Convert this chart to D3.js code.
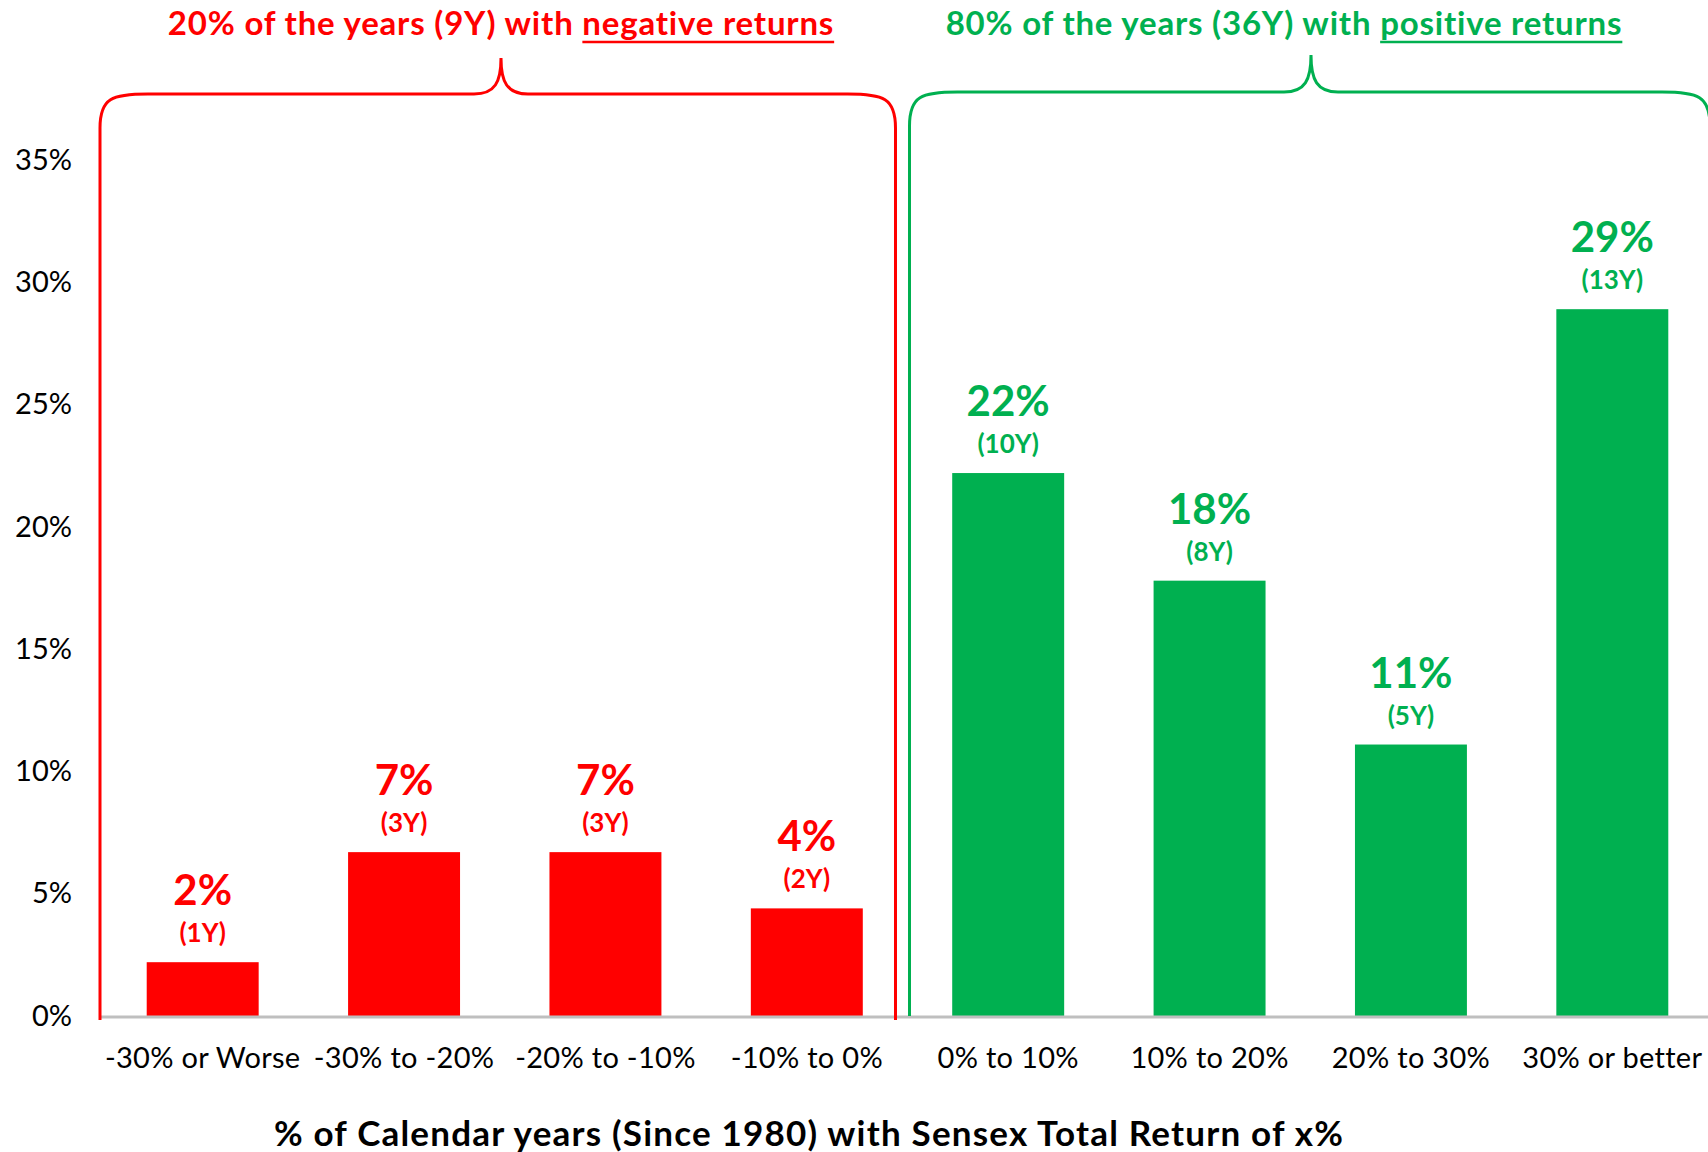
<!DOCTYPE html>
<html>
<head>
<meta charset="utf-8">
<script src="https://cdnjs.cloudflare.com/ajax/libs/d3/7.8.5/d3.min.js"></script>
<style>
  html, body { margin: 0; padding: 0; background: #fff; }
  svg { display: block; font-family: Lato, "Open Sans", sans-serif; }
</style>
</head>
<body>
<div id="canvas"></div>
<script>
// chart data
var categories = ["-30% or Worse", "-30% to -20%", "-20% to -10%", "-10% to 0%",
                  "0% to 10%", "10% to 20%", "20% to 30%", "30% or better"];
var shareValues = [2.2, 6.7, 6.7, 4.4, 22.2, 17.8, 11.1, 28.9];
var shareLabels = ["2%", "7%", "7%", "4%", "22%", "18%", "11%", "29%"];
var yearLabels = ["(1Y)", "(3Y)", "(3Y)", "(2Y)", "(10Y)", "(8Y)", "(5Y)", "(13Y)"];
var isPositive = [false, false, false, false, true, true, true, true];
var yTicks = [0, 5, 10, 15, 20, 25, 30, 35];

var RED = "#ff0000", GREEN = "#00b050";

var width = 1708, height = 1152;
var svg = d3.select("#canvas").append("svg")
    .attr("width", width)
    .attr("height", height);

// scales
var x = d3.scaleBand()
    .domain(categories)
    .range([102, 1713])
    .paddingInner(0.444)
    .paddingOuter(0.222);

var y = d3.scaleLinear()
    .domain([0, 35])
    .range([1016, 160]);

// y axis (labels only)
var yAxis = svg.append("g")
    .attr("transform", "translate(100,0)")
    .call(d3.axisLeft(y).tickValues(yTicks).tickSize(0).tickPadding(28)
        .tickFormat(function(d) { return d + "%"; }));
yAxis.select(".domain").remove();
yAxis.selectAll("text")
    .style("font-family", "Lato, sans-serif")
    .style("font-size", "29px")
    .attr("fill", "#000");

// bars
svg.selectAll("rect.bar")
    .data(shareValues)
  .enter().append("rect")
    .attr("class", "bar")
    .attr("x", function(d, i) { return x(categories[i]); })
    .attr("width", x.bandwidth())
    .attr("y", function(d) { return y(d); })
    .attr("height", function(d) { return y(0) - y(d); })
    .attr("fill", function(d, i) { return isPositive[i] ? GREEN : RED; });

// value labels
svg.selectAll("text.pct")
    .data(shareValues)
  .enter().append("text")
    .attr("class", "pct")
    .attr("x", function(d, i) { return x(categories[i]) + x.bandwidth() / 2; })
    .attr("y", function(d) { return y(d) - 57; })
    .attr("text-anchor", "middle")
    .style("font-size", "42px")
    .style("font-weight", "bold")
    .attr("fill", function(d, i) { return isPositive[i] ? GREEN : RED; })
    .text(function(d, i) { return shareLabels[i]; });

svg.selectAll("text.yrs")
    .data(shareValues)
  .enter().append("text")
    .attr("class", "yrs")
    .attr("x", function(d, i) { return x(categories[i]) + x.bandwidth() / 2; })
    .attr("y", function(d) { return y(d) - 20; })
    .attr("text-anchor", "middle")
    .style("font-size", "26px")
    .style("font-weight", "bold")
    .attr("fill", function(d, i) { return isPositive[i] ? GREEN : RED; })
    .text(function(d, i) { return yearLabels[i]; });

// x axis
var xAxis = svg.append("g")
    .attr("transform", "translate(0," + y(0) + ")")
    .call(d3.axisBottom(x).tickSize(0).tickPadding(31));
xAxis.select(".domain").remove();
xAxis.selectAll("text")
    .style("font-family", "Lato, sans-serif")
    .style("font-size", "29px")
    .style("letter-spacing", "0.3px")
    .attr("fill", "#000");

// gray baseline
svg.append("line")
    .attr("x1", 100).attr("x2", width)
    .attr("y1", y(0) + 1).attr("y2", y(0) + 1)
    .attr("stroke", "#bfbfbf")
    .attr("stroke-width", 3);

// braces around the two groups
var gap = x.step() - x.bandwidth();
var split = x(categories[4]) - gap / 2;

function brace(left, right, top, peakX, peakY, bottom) {
  var p = d3.path();
  var rx = 48, ry = 34, px = 27;
  p.moveTo(left, bottom);
  p.lineTo(left, top + ry);
  p.bezierCurveTo(left, top + 4, left + 12, top, left + rx, top);
  p.lineTo(peakX - px, top);
  p.bezierCurveTo(peakX - 6, top, peakX, top - 12, peakX, peakY);
  p.bezierCurveTo(peakX, top - 12, peakX + 6, top, peakX + px, top);
  p.lineTo(right - rx, top);
  p.bezierCurveTo(right - 12, top, right, top + 4, right, top + ry);
  p.lineTo(right, bottom);
  return p.toString();
}

svg.append("path")
    .attr("d", brace(x.range()[0] - 2, split - 12, 94, 501, 58, y(0) + 4))
    .attr("fill", "none")
    .attr("stroke", RED)
    .attr("stroke-width", 3);

svg.append("path")
    .attr("d", brace(split + 2, x.range()[1] - 3, 92, 1311, 55, y(0)))
    .attr("fill", "none")
    .attr("stroke", GREEN)
    .attr("stroke-width", 3);

// group titles
function groupTitle(cx, lead, under, color) {
  var t = svg.append("text")
      .attr("x", cx)
      .attr("y", 35)
      .attr("text-anchor", "middle")
      .style("font-size", "33px")
      .style("font-weight", "bold")
      .style("letter-spacing", "0.8px")
      .attr("fill", color);
  t.append("tspan").text(lead);
  var u = t.append("tspan").text(under);
  var node = u.node();
  var x0 = node.getStartPositionOfChar(0).x;
  var len = node.getComputedTextLength();
  svg.append("line")
      .attr("x1", x0).attr("x2", x0 + len)
      .attr("y1", 42).attr("y2", 42)
      .attr("stroke", color)
      .attr("stroke-width", 2.5);
}
groupTitle(501, "20% of the years (9Y) with ", "negative returns", RED);
groupTitle(1284, "80% of the years (36Y) with ", "positive returns", GREEN);

// bottom caption
svg.append("text")
    .attr("x", 809)
    .attr("y", 1146)
    .attr("text-anchor", "middle")
    .style("font-size", "35px")
    .style("font-weight", "bold")
    .style("letter-spacing", "1.2px")
    .attr("fill", "#000")
    .text("% of Calendar years (Since 1980) with Sensex Total Return of x%");
</script>
</body>
</html>
